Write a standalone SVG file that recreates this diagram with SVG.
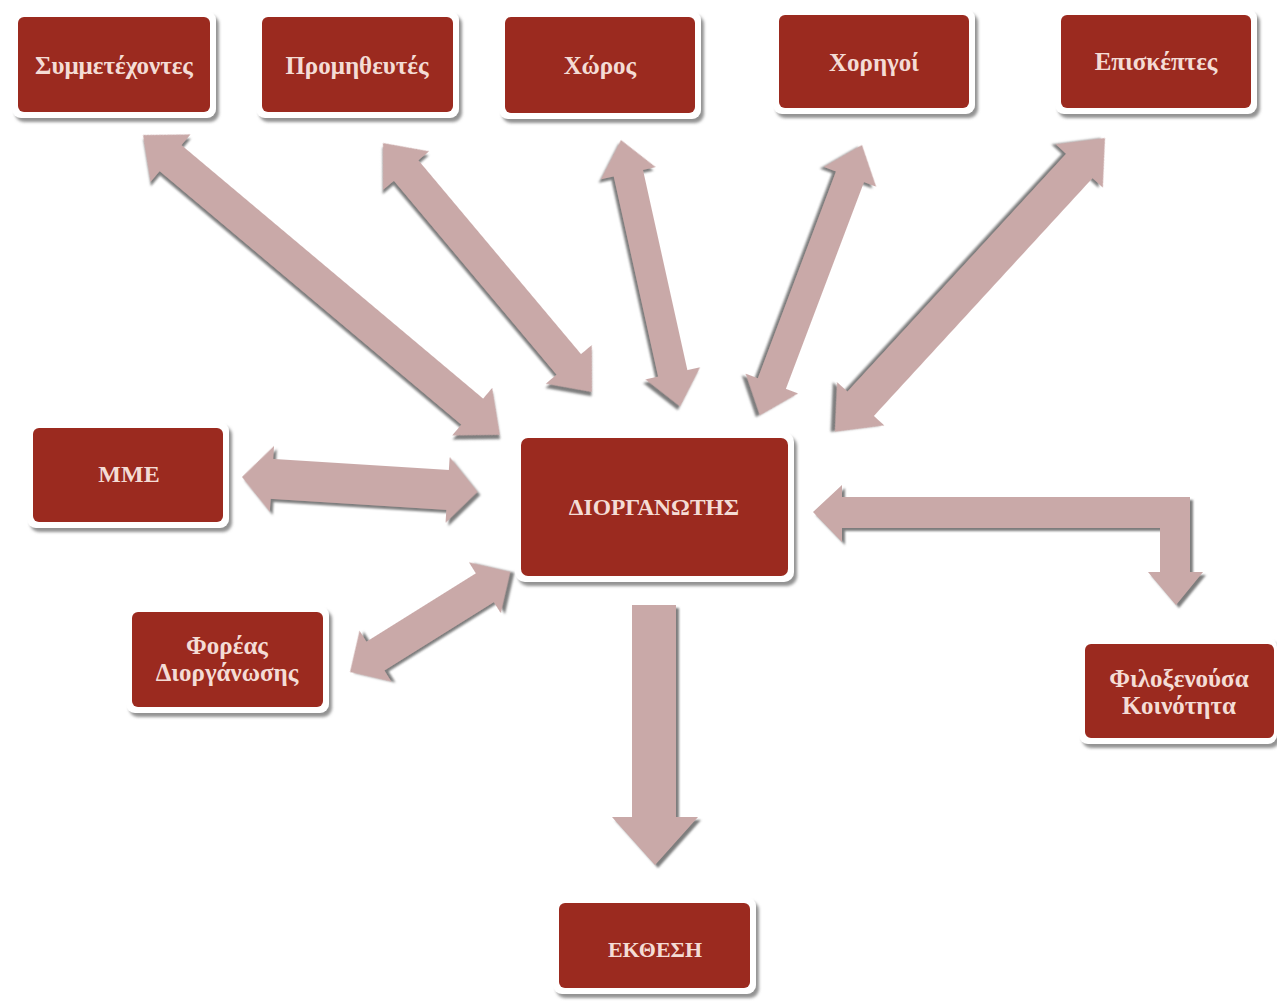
<svg xmlns="http://www.w3.org/2000/svg" width="1277" height="1007" viewBox="0 0 1277 1007">
<defs>
<filter id="sh" x="-10%" y="-10%" width="130%" height="140%">
<feDropShadow dx="3" dy="4" stdDeviation="1.5" flood-color="#777" flood-opacity="0.8"/>
</filter>
<filter id="ash" x="-10%" y="-10%" width="130%" height="130%">
<feDropShadow dx="3" dy="3" stdDeviation="1.2" flood-color="#666" flood-opacity="0.85"/>
</filter>
<style>
.outer{fill:#fff;filter:url(#sh)}
.box{fill:#9b2a1f}
.t{font-family:"Liberation Serif","DejaVu Serif",serif;font-weight:bold;font-size:25px;fill:#f4dcd5;text-anchor:middle;dominant-baseline:central}
.a{fill:#c9a9a8;filter:url(#ash)}
</style>
</defs>
<rect width="1277" height="1007" fill="#fff"/>
<g id="connectors">
<polygon class="a" transform="translate(143,135) rotate(40.04)" points="0,0 36,-31 36,-17 430,-17 430,-31 466,0 430,31 430,17 36,17 36,31"/>
<polygon class="a" transform="translate(383,143) rotate(50)" points="0,0 36,-30 36,-16 289,-16 289,-30 325,0 289,30 289,16 36,16 36,30"/>
<polygon class="a" transform="translate(621,140) rotate(77.5)" points="0,0 34,-28 34,-15 239,-15 239,-28 273,0 239,28 239,15 34,15 34,28"/>
<polygon class="a" transform="translate(862,145) rotate(110.7)" points="0,0 34,-28 34,-15 255,-15 255,-28 289,0 255,28 255,15 34,15 34,28"/>
<polygon class="a" transform="translate(1105,138) rotate(132.6)" points="0,0 38,-32 38,-18 361,-18 361,-32 399,0 361,32 361,18 38,18 38,32"/>
<polygon class="a" transform="translate(242,477) rotate(3.6)" points="0,0 30,-33 30,-20 206,-20 206,-33 236,0 206,33 206,20 30,20 30,33"/>
<polygon class="a" transform="translate(350,672) rotate(-32)" points="0,0 30,-30 30,-17 159,-17 159,-30 189,0 159,30 159,17 30,17 30,30"/>
<polygon class="a" points="632,605 676,605 676,817 698,817 655,865 612,817 632,817"/>
<polygon class="a" points="813,512 842,485 842,497 1190,497 1190,572 1203,572 1176,605 1148,572 1160,572 1160,528 842,528 842,542"/>
</g>
<g id="n-symmetexontes"><rect class="outer" x="12" y="11" width="204" height="107" rx="9"/><rect class="box" x="18" y="17" width="192" height="95" rx="6"/><text class="t" x="114" y="65">Συμμετέχοντες</text></g>
<g id="n-promitheutes"><rect class="outer" x="256" y="11" width="203" height="107" rx="9"/><rect class="box" x="262" y="17" width="191" height="95" rx="6"/><text class="t" x="357" y="65">Προμηθευτές</text></g>
<g id="n-xoros"><rect class="outer" x="499" y="11" width="202" height="108" rx="9"/><rect class="box" x="505" y="17" width="190" height="96" rx="6"/><text class="t" x="600" y="65">Χώρος</text></g>
<g id="n-xorigoi"><rect class="outer" x="773" y="9" width="202" height="105" rx="9"/><rect class="box" x="779" y="15" width="190" height="93" rx="6"/><text class="t" x="874" y="62">Χορηγοί</text></g>
<g id="n-episkeptes"><rect class="outer" x="1055" y="9" width="202" height="105" rx="9"/><rect class="box" x="1061" y="15" width="190" height="93" rx="6"/><text class="t" x="1156" y="61">Επισκέπτες</text></g>
<g id="n-mme"><rect class="outer" x="27" y="422" width="202" height="106" rx="9"/><rect class="box" x="33" y="428" width="190" height="94" rx="6"/><text class="t" x="129" y="474" style="font-size:24px">MME</text></g>
<g id="n-diorganotis"><rect class="outer" x="515" y="432" width="279" height="150" rx="10"/><rect class="box" x="521" y="438" width="267" height="138" rx="7"/><text class="t" x="654" y="507" style="font-size:23.5px">ΔΙΟΡΓΑΝΩΤΗΣ</text></g>
<g id="n-foreas"><rect class="outer" x="126" y="606" width="203" height="107" rx="9"/><rect class="box" x="132" y="612" width="191" height="95" rx="6"/><text class="t" x="227" y="645">Φορέας</text><text class="t" x="227" y="672">Διοργάνωσης</text></g>
<g id="n-filoxenousa"><rect class="outer" x="1079" y="638" width="198" height="106" rx="9"/><rect class="box" x="1085" y="644" width="189" height="94" rx="6"/><text class="t" x="1179" y="678">Φιλοξενούσα</text><text class="t" x="1179" y="705">Κοινότητα</text></g>
<g id="n-ekthesi"><rect class="outer" x="553" y="897" width="203" height="97" rx="9"/><rect class="box" x="559" y="903" width="191" height="85" rx="6"/><text class="t" x="655" y="949" style="font-size:22px">ΕΚΘΕΣΗ</text></g>
</svg>
